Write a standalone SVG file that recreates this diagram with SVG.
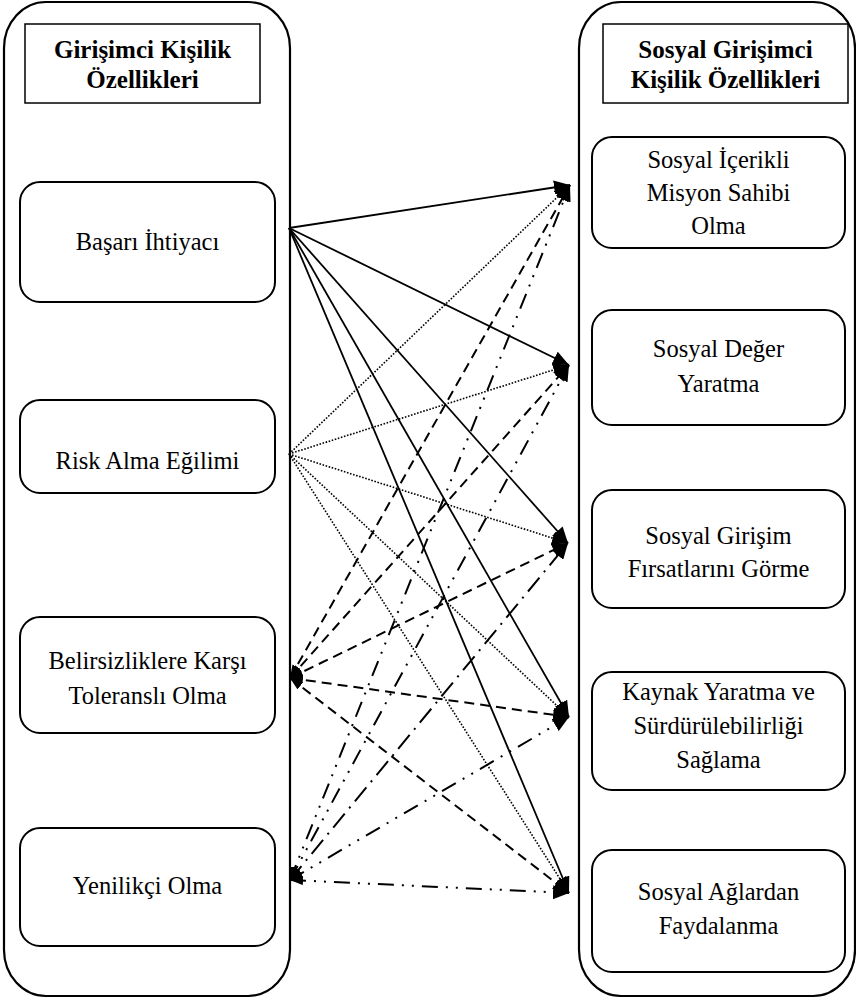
<svg xmlns="http://www.w3.org/2000/svg" width="856" height="999" viewBox="0 0 856 999">
<style>
.cont{fill:none;stroke:#000;stroke-width:2.2}
.box{fill:#fff;stroke:#000;stroke-width:2}
.hdr{fill:#fff;stroke:#000;stroke-width:1.5}
text{font-family:"Liberation Serif","Times New Roman","DejaVu Serif",serif;font-size:24.5px;fill:#000;text-anchor:middle}
.b{font-weight:bold;font-size:25px}
.c line{stroke:#000;fill:none}
.solid{stroke-width:1.8}
.dot{stroke-width:1.6;stroke-dasharray:1.6 1.6}
.dash{stroke-width:2;stroke-dasharray:10 6}
.dd{stroke-width:2;stroke-dasharray:16 8 2 8 2 8}
.da{stroke-width:2;stroke-dasharray:18 7 2 7}
</style>
<defs>
<marker id="ah" markerUnits="userSpaceOnUse" markerWidth="16" markerHeight="14" refX="16" refY="7" orient="auto">
<path d="M0,0 L16,7 L0,14 z" fill="#000"/>
</marker>
<marker id="as" markerUnits="userSpaceOnUse" markerWidth="13" markerHeight="9" refX="13" refY="4.5" orient="auto-start-reverse">
<path d="M0,0 L13,4.5 L0,9 z" fill="#000"/>
</marker>
</defs>
<g id="left-container">
<rect class="cont" x="4" y="2" width="286" height="994" rx="42" ry="46"/>
<rect class="hdr" x="25" y="24" width="235" height="79"/>
<text class="b" x="142.5" y="58">Girişimci Kişilik</text>
<text class="b" x="142.5" y="88">Özellikleri</text>
</g>
<g id="right-container">
<rect class="cont" x="579" y="2" width="276" height="994" rx="42" ry="46"/>
<rect class="hdr" x="603" y="24" width="245" height="79"/>
<text class="b" x="725.5" y="58">Sosyal Girişimci</text>
<text class="b" x="725.5" y="88">Kişilik Özellikleri</text>
</g>
<g id="basari"><rect class="box" x="20" y="182" width="255" height="120" rx="20"/><text x="147.5" y="250">Başarı İhtiyacı</text></g>
<g id="risk"><rect class="box" x="20" y="400" width="255" height="93" rx="20"/><text x="147.5" y="469">Risk Alma Eğilimi</text></g>
<g id="belirsizlik"><rect class="box" x="20" y="617" width="255" height="116" rx="20"/><text x="147.5" y="669">Belirsizliklere Karşı</text><text x="147.5" y="704">Toleranslı Olma</text></g>
<g id="yenilikci"><rect class="box" x="20" y="828" width="255" height="118" rx="20"/><text x="147.5" y="894">Yenilikçi Olma</text></g>
<g id="misyon"><rect class="box" x="592" y="137" width="253" height="111" rx="20"/><text x="718.5" y="168">Sosyal İçerikli</text><text x="718.5" y="201">Misyon Sahibi</text><text x="718.5" y="234">Olma</text></g>
<g id="deger"><rect class="box" x="592" y="310" width="253" height="115" rx="20"/><text x="718.5" y="357">Sosyal Değer</text><text x="718.5" y="392">Yaratma</text></g>
<g id="firsat"><rect class="box" x="592" y="490" width="253" height="118" rx="20"/><text x="718.5" y="544">Sosyal Girişim</text><text x="718.5" y="577">Fırsatlarını Görme</text></g>
<g id="kaynak"><rect class="box" x="592" y="672" width="253" height="118" rx="20"/><text x="718.5" y="700">Kaynak Yaratma ve</text><text x="718.5" y="734">Sürdürülebilirliği</text><text x="718.5" y="768">Sağlama</text></g>
<g id="aglar"><rect class="box" x="592" y="850" width="253" height="122" rx="20"/><text x="718.5" y="900">Sosyal Ağlardan</text><text x="718.5" y="934">Faydalanma</text></g>
<g id="connectors" class="c">
<line class="solid" x1="289" y1="228" x2="570" y2="185" marker-end="url(#ah)"/>
<line class="solid" x1="289" y1="228" x2="569" y2="365" marker-end="url(#ah)"/>
<line class="solid" x1="289" y1="228" x2="568" y2="543" marker-end="url(#ah)"/>
<line class="solid" x1="289" y1="228" x2="569" y2="717" marker-end="url(#ah)"/>
<line class="solid" x1="289" y1="228" x2="569" y2="893" marker-end="url(#ah)"/>
<line class="dot" x1="289" y1="454" x2="570" y2="185" marker-end="url(#ah)"/>
<line class="dot" x1="289" y1="454" x2="569" y2="365" marker-end="url(#ah)"/>
<line class="dot" x1="289" y1="454" x2="568" y2="543" marker-end="url(#ah)"/>
<line class="dot" x1="289" y1="454" x2="569" y2="717" marker-end="url(#ah)"/>
<line class="dot" x1="289" y1="454" x2="569" y2="893" marker-end="url(#ah)"/>
<line class="dash" x1="290" y1="678" x2="570" y2="185" marker-start="url(#as)" marker-end="url(#ah)"/>
<line class="dash" x1="290" y1="678" x2="569" y2="365" marker-start="url(#as)" marker-end="url(#ah)"/>
<line class="dash" x1="290" y1="678" x2="568" y2="543" marker-start="url(#as)" marker-end="url(#ah)"/>
<line class="dash" x1="290" y1="678" x2="569" y2="717" marker-start="url(#as)" marker-end="url(#ah)"/>
<line class="dash" x1="290" y1="678" x2="569" y2="893" marker-start="url(#as)" marker-end="url(#ah)"/>
<line class="dd" x1="290" y1="880" x2="570" y2="185" marker-start="url(#as)" marker-end="url(#ah)"/>
<line class="dd" x1="290" y1="880" x2="569" y2="365" marker-start="url(#as)" marker-end="url(#ah)"/>
<line class="da" x1="290" y1="880" x2="568" y2="543" marker-start="url(#as)" marker-end="url(#ah)"/>
<line class="dd" x1="290" y1="880" x2="569" y2="717" marker-start="url(#as)" marker-end="url(#ah)"/>
<line class="dd" x1="290" y1="880" x2="569" y2="893" marker-start="url(#as)" marker-end="url(#ah)"/>
</g>
</svg>
